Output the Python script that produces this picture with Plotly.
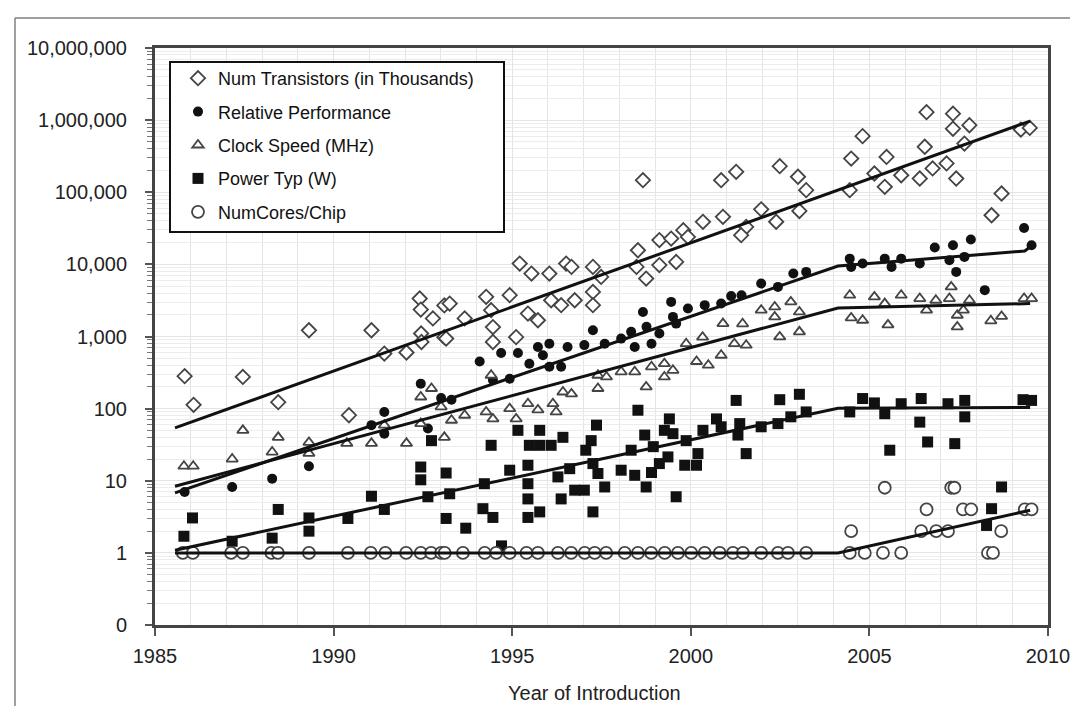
import plotly.graph_objects as go

# ---------------- data (year, value) ----------------
transistors = [
    (1985.83, 282), (1986.08, 113), (1987.46, 275), (1988.45, 123), (1989.31, 1220),
    (1990.43, 81), (1991.06, 1220), (1991.42, 580), (1992.04, 600), (1992.41, 3360),
    (1992.44, 2360), (1992.78, 1780), (1992.45, 1100), (1992.46, 840), (1993.10, 2700),
    (1993.10, 980), (1993.25, 2860), (1993.15, 935), (1993.67, 1780), (1994.27, 3550),
    (1994.41, 2320), (1994.46, 1350), (1994.46, 840), (1994.93, 3740), (1995.11, 980),
    (1995.21, 10260), (1995.44, 2080), (1995.54, 7460), (1995.72, 1680), (1996.04, 7460),
    (1996.09, 3180), (1996.37, 2720), (1996.51, 10260), (1996.66, 9230), (1996.75, 3180),
    (1997.26, 9230), (1997.26, 4150), (1997.26, 2720), (1997.49, 6700), (1998.52, 15700),
    (1998.48, 9230), (1998.66, 147000), (1998.75, 6350), (1999.12, 21700), (1999.12, 9770),
    (1999.45, 22800), (1999.59, 10800), (1999.79, 29800), (1999.92, 24000), (2000.34, 38900),
    (2000.90, 45600), (2000.85, 147000), (2001.27, 192000), (2001.55, 33000), (2001.41, 25400),
    (2001.97, 58000), (2002.39, 39000), (2002.49, 230000), (2003.00, 164000), (2003.23, 107000),
    (2003.04, 55000), (2004.45, 107000), (2004.49, 293000), (2004.81, 600000), (2005.14, 182000),
    (2005.43, 119000), (2005.48, 309000), (2005.89, 172000), (2006.41, 155000), (2006.60, 1290000),
    (2006.55, 427000), (2006.77, 214000), (2007.16, 251000), (2007.34, 1230000), (2007.34, 760000),
    (2007.80, 850000), (2007.66, 473000), (2007.43, 155000), (2008.42, 48000), (2008.70, 96000),
    (2009.24, 740000), (2009.49, 780000),
]

performance = [
    (1985.83, 7.0), (1987.16, 8.2), (1988.28, 10.7), (1989.31, 15.9), (1991.06, 59),
    (1991.42, 90), (1991.42, 45), (1992.44, 222), (1992.64, 53), (1993.01, 140),
    (1993.30, 133), (1994.09, 450), (1994.46, 250), (1994.69, 590), (1994.93, 260),
    (1995.16, 590), (1995.48, 420), (1995.72, 716), (1995.86, 550), (1996.04, 380),
    (1996.04, 795), (1996.37, 380), (1996.55, 716), (1997.02, 760), (1997.26, 1220),
    (1997.59, 795), (1998.05, 935), (1998.33, 1160), (1998.43, 716), (1998.66, 2190),
    (1998.76, 1360), (1998.90, 795), (1999.12, 1100), (1999.45, 3020), (1999.50, 1870),
    (1999.59, 1510), (1999.92, 2440), (2000.39, 2720), (2000.85, 2860), (2001.13, 3630),
    (2001.42, 3740), (2001.97, 5420), (2002.44, 4870), (2002.87, 7460), (2003.23, 7870),
    (2004.45, 12000), (2004.49, 9230), (2004.81, 10260), (2005.43, 12000), (2005.62, 9230),
    (2005.89, 12000), (2006.41, 10260), (2006.83, 17100), (2007.34, 18400), (2007.24, 11400),
    (2007.66, 12700), (2007.43, 7870), (2007.84, 22100), (2008.23, 4390), (2009.33, 32000),
    (2009.54, 18400),
]

clock_mhz = [
    (1985.81, 15.9), (1986.07, 15.9), (1987.16, 20), (1987.46, 50), (1988.28, 25),
    (1988.45, 40), (1989.31, 24), (1989.31, 34), (1990.37, 33), (1991.06, 33),
    (1991.42, 59), (1992.04, 33), (1992.44, 145), (1992.44, 62), (1992.74, 190),
    (1993.01, 106), (1993.10, 40), (1993.30, 69), (1993.67, 81), (1994.27, 90),
    (1994.46, 72), (1994.93, 100), (1995.11, 72), (1995.44, 117), (1995.72, 96),
    (1996.14, 117), (1996.23, 90), (1996.42, 170), (1996.66, 160), (1997.40, 190),
    (1998.75, 200), (1999.26, 275), (1994.41, 290), (1997.40, 290), (1997.64, 275),
    (1998.05, 324), (1998.43, 324), (1998.90, 380), (1999.26, 420), (1999.50, 340),
    (2000.16, 450), (2000.49, 400), (2000.85, 550), (2000.90, 1510), (2001.22, 795),
    (2000.33, 980), (1999.87, 795), (2001.45, 1500), (2001.55, 757), (2001.97, 2320),
    (2002.35, 2570), (2002.35, 1870), (2002.49, 987), (2002.80, 3020), (2003.04, 2190),
    (2003.04, 1160), (2004.45, 3740), (2004.49, 1810), (2004.81, 1680), (2005.14, 3540),
    (2005.43, 2860), (2005.52, 1450), (2005.89, 3740), (2006.41, 3360), (2006.60, 2320),
    (2006.86, 3180), (2007.29, 4870), (2007.24, 3360), (2007.46, 1970), (2007.46, 1360),
    (2007.80, 3180), (2007.63, 2320), (2008.40, 1650), (2008.70, 1900), (2009.33, 3360),
    (2009.54, 3360),
]

power_w = [
    (1985.81, 1.7), (1986.05, 3.05), (1987.16, 1.45), (1988.28, 1.6), (1988.45, 4.0),
    (1989.31, 3.05), (1989.31, 2.0), (1990.40, 3.0), (1991.06, 6.1), (1991.42, 4.0),
    (1992.44, 15.5), (1992.44, 10.3), (1992.64, 6.0), (1992.74, 36), (1993.15, 12.8),
    (1993.15, 3.0), (1993.25, 6.6), (1993.70, 2.2), (1994.22, 9.1), (1994.41, 31),
    (1994.18, 4.1), (1994.46, 3.1), (1994.70, 1.25), (1994.93, 14), (1995.16, 50),
    (1995.44, 16.4), (1995.44, 9.1), (1995.44, 5.6), (1995.44, 3.1), (1995.48, 31),
    (1995.77, 50), (1995.77, 31), (1995.77, 3.7), (1996.09, 31), (1996.28, 11.3),
    (1996.37, 5.6), (1996.42, 40), (1996.61, 14.7), (1996.75, 7.4), (1997.02, 7.4),
    (1997.06, 26.5), (1997.21, 36), (1997.26, 17.3), (1997.36, 59), (1997.40, 12.6),
    (1997.26, 3.7), (1997.59, 8.2), (1998.05, 14), (1998.33, 26.5), (1998.43, 11.9),
    (1998.52, 95), (1998.71, 43), (1998.75, 8.2), (1998.90, 13), (1998.95, 29.7),
    (1999.12, 17.3), (1999.26, 50), (1999.40, 72), (1999.50, 45), (1999.36, 21.4),
    (1999.59, 6.0), (1999.83, 16.4), (1999.87, 36), (2000.16, 16.4), (2000.20, 23.8),
    (2000.34, 50), (2000.72, 72), (2000.85, 56), (2001.27, 130), (2001.37, 62),
    (2001.32, 43), (2001.55, 23.8), (2001.97, 56), (2002.44, 62), (2002.49, 133),
    (2002.80, 77), (2003.04, 158), (2003.23, 90), (2004.45, 90), (2004.81, 138),
    (2005.14, 120), (2005.43, 85), (2005.57, 26.5), (2005.89, 117), (2006.45, 138),
    (2006.41, 65), (2006.63, 34.5), (2007.20, 117), (2007.67, 130), (2007.39, 32.7),
    (2007.67, 77), (2008.70, 8.2), (2008.42, 4.1), (2008.28, 2.4), (2009.30, 133),
    (2009.54, 130),
]

cores = [
    (1985.78, 1), (1986.06, 1), (1987.13, 1), (1987.46, 1), (1988.26, 1),
    (1988.44, 1), (1989.31, 1), (1990.40, 1), (1991.04, 1), (1991.45, 1),
    (1992.03, 1), (1992.44, 1), (1992.73, 1), (1993.01, 1), (1993.11, 1),
    (1993.62, 1), (1994.23, 1), (1994.55, 1), (1994.93, 1), (1995.40, 1),
    (1995.72, 1), (1996.28, 1), (1996.65, 1), (1997.03, 1), (1997.31, 1),
    (1997.63, 1), (1998.15, 1), (1998.52, 1), (1998.89, 1), (1999.27, 1),
    (1999.64, 1), (2000.01, 1), (2000.39, 1), (2000.81, 1), (2001.18, 1),
    (2001.46, 1), (2001.97, 1), (2002.44, 1), (2002.72, 1), (2003.23, 1),
    (2004.45, 1), (2004.87, 1), (2005.38, 1), (2005.89, 1), (2008.32, 1),
    (2008.46, 1), (2004.49, 2), (2005.43, 8), (2006.60, 4), (2006.45, 2),
    (2006.87, 2), (2007.20, 2), (2007.29, 8), (2007.38, 8), (2007.62, 4),
    (2007.85, 4), (2008.69, 2), (2009.35, 4), (2009.54, 4),
]

# trend lines (knots)
trend_transistors = [(1985.56, 54), (2009.5, 970000)]
trend_performance = [(1985.56, 6.8), (2004.12, 9500), (2009.35, 15300), (2009.52, 17800)]
trend_clock = [(1985.56, 8.4), (2004.12, 2480), (2009.5, 2860)]
trend_power = [(1985.56, 1.09), (2004.12, 101), (2009.5, 104)]
trend_cores = [(1985.56, 1), (2004.12, 1), (2009.5, 3.9)]

series_names = [
    "Num Transistors (in Thousands)",
    "Relative Performance",
    "Clock Speed (MHz)",
    "Power Typ (W)",
    "NumCores/Chip",
]

y_tickvals = [0.1, 1, 10, 100, 1000, 10000, 100000, 1000000, 10000000]
y_ticktext = ["0", "1", "10", "100", "1,000", "10,000", "100,000", "1,000,000", "10,000,000"]
x_tickvals = [1985, 1990, 1995, 2000, 2005, 2010]

# ---------------- figure ----------------
FONT = "Liberation Sans, Arial, sans-serif"
OUT = "#444444"

styles = [
    dict(symbol="diamond", size=11, color="white", line=dict(color=OUT, width=1.8)),
    dict(symbol="circle", size=10, color="#111111", line=dict(width=0)),
    dict(symbol="triangle-up", size=10, color="white", line=dict(color=OUT, width=1.8)),
    dict(symbol="square", size=11, color="#111111", line=dict(width=0)),
    dict(symbol="circle", size=12, color="white", line=dict(color=OUT, width=1.8)),
]
datasets = [transistors, performance, clock_mhz, power_w, cores]
trends = [trend_transistors, trend_performance, trend_clock, trend_power, trend_cores]

fig = go.Figure()
for name, data, st in zip(series_names, datasets, styles):
    fig.add_trace(go.Scatter(
        x=[p[0] for p in data], y=[p[1] for p in data],
        mode="markers", name=name, marker=st, legendgroup=name,
    ))
for tr in trends:
    fig.add_trace(go.Scatter(
        x=[p[0] for p in tr], y=[p[1] for p in tr],
        mode="lines", line=dict(color="#111111", width=3),
        showlegend=False, hoverinfo="skip",
    ))

L, R, T, B = 147, 1040, 40, 617
W, H = 1078, 706
PW, PH = R - L, B - T


def px(xp):
    return (xp - L) / PW


def py(yp):
    return 1 - (yp - T) / PH


shapes = [
    # legend box
    dict(type="rect", xref="paper", yref="paper",
         x0=px(162), x1=px(496), y0=py(224), y1=py(54),
         line=dict(color="#111111", width=2), fillcolor="white", layer="above"),
    # outer frame (top and left edges visible)
    dict(type="line", xref="paper", yref="paper", x0=px(7), x1=px(W + 5),
         y0=py(10), y1=py(10), line=dict(color="#808080", width=1.5)),
    dict(type="line", xref="paper", yref="paper", x0=px(7), x1=px(7),
         y0=py(10), y1=py(H + 5), line=dict(color="#808080", width=1.5)),
]

fig.update_layout(
    width=W, height=H,
    margin=dict(l=L, r=W - R, t=T, b=H - B),
    paper_bgcolor="white", plot_bgcolor="white",
    font=dict(family=FONT, size=20, color="#222222"),
    shapes=shapes,
    showlegend=True,
    legend=dict(
        x=px(170), y=py(52), xanchor="left", yanchor="top",
        bgcolor="rgba(0,0,0,0)", borderwidth=0,
        font=dict(family=FONT, size=18, color="#111111"),
        tracegroupgap=7, itemwidth=30,
    ),
    annotations=[dict(
        text="Year of Introduction", xref="paper", yref="paper",
        x=px(586), y=py(685), xanchor="center", yanchor="middle",
        showarrow=False, font=dict(family=FONT, size=20, color="#222222"),
    )],
)

fig.update_xaxes(
    range=[1985, 2010], tickvals=x_tickvals, ticktext=[str(v) for v in x_tickvals],
    ticks="outside", ticklen=8, tickwidth=1.5, tickcolor="#555555",
    showline=True, linecolor="#444444", linewidth=3, mirror=True,
    showgrid=True, gridcolor="#e4e4e4", gridwidth=1,
    minor=dict(dtick=1, showgrid=True, gridcolor="#e4e4e4", gridwidth=1, ticks=""),
    ticklabelstandoff=3, zeroline=False,
    tickfont=dict(family=FONT, size=20, color="#222222"),
)
fig.update_yaxes(
    type="log", range=[-1, 7], tickvals=y_tickvals, ticktext=y_ticktext,
    ticks="outside", ticklen=7, tickwidth=1.5, tickcolor="#555555",
    showline=True, linecolor="#444444", linewidth=3, mirror=True,
    showgrid=True, gridcolor="#e4e4e4", gridwidth=1,
    minor=dict(dtick="D1", showgrid=True, gridcolor="#ececec", gridwidth=1,
               ticks="outside", ticklen=5, tickcolor="#777777", tickwidth=1),
    ticklabelstandoff=14, zeroline=False,
    tickfont=dict(family=FONT, size=20, color="#222222"),
)

fig.write_html("out.html")
